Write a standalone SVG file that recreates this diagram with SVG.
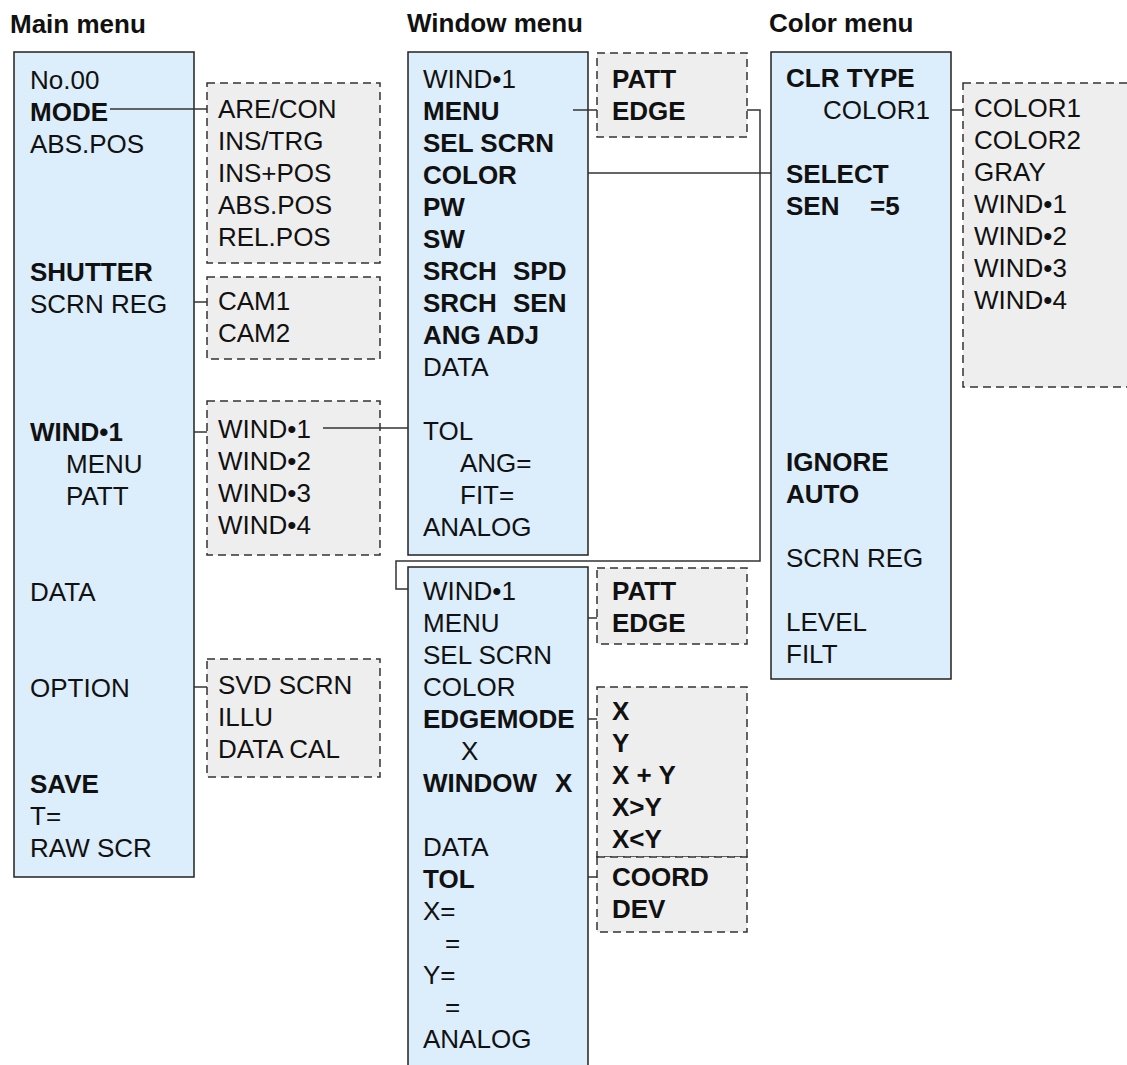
<svg xmlns="http://www.w3.org/2000/svg" width="1127" height="1065" viewBox="0 0 1127 1065">
<style>
.menu{fill:#DCEDFB;stroke:#222;stroke-width:1.5}
.sub{fill:#EEEEEE;stroke:#333;stroke-width:1.5;stroke-dasharray:8 5}
text{font-family:"Liberation Sans",Arial,sans-serif;font-size:26px;fill:#111}
.b{font-weight:bold}
.conn{fill:none;stroke:#333;stroke-width:1.5}
</style>
<rect width="1127" height="1065" fill="#fff"/>
<g id="titles">
<text class="b" x="10" y="33">Main menu</text>
<text class="b" x="407" y="32">Window menu</text>
<text class="b" x="769" y="32">Color menu</text>
</g>
<g id="main-menu">
<rect class="menu" x="14" y="52" width="180" height="825"/>
<text x="30" y="89">No.00</text>
<text class="b" x="30" y="121">MODE</text>
<text x="30" y="153">ABS.POS</text>
<text class="b" x="30" y="281">SHUTTER</text>
<text x="30" y="313">SCRN REG</text>
<text class="b" x="30" y="441">WIND•1</text>
<text x="66" y="473">MENU</text>
<text x="66" y="505">PATT</text>
<text x="30" y="601">DATA</text>
<text x="30" y="697">OPTION</text>
<text class="b" x="30" y="793">SAVE</text>
<text x="30" y="825">T=</text>
<text x="30" y="857">RAW SCR</text>
</g>
<g id="mode-sub">
<rect class="sub" x="207" y="83" width="173" height="180"/>
<text x="218" y="118">ARE/CON</text>
<text x="218" y="150">INS/TRG</text>
<text x="218" y="182">INS+POS</text>
<text x="218" y="214">ABS.POS</text>
<text x="218" y="246">REL.POS</text>
</g>
<g id="cam-sub">
<rect class="sub" x="207" y="277" width="173" height="82"/>
<text x="218" y="310">CAM1</text>
<text x="218" y="342">CAM2</text>
</g>
<g id="wind-sub">
<rect class="sub" x="207" y="401" width="173" height="154"/>
<text x="218" y="438">WIND•1</text>
<text x="218" y="470">WIND•2</text>
<text x="218" y="502">WIND•3</text>
<text x="218" y="534">WIND•4</text>
</g>
<g id="option-sub">
<rect class="sub" x="207" y="659" width="173" height="118"/>
<text x="218" y="694">SVD SCRN</text>
<text x="218" y="726">ILLU</text>
<text x="218" y="758">DATA CAL</text>
</g>
<g id="window-menu-patt">
<rect class="menu" x="408" y="52" width="180" height="503"/>
<text x="423" y="88">WIND•1</text>
<text class="b" x="423" y="120">MENU</text>
<text class="b" x="423" y="152">SEL SCRN</text>
<text class="b" x="423" y="184">COLOR</text>
<text class="b" x="423" y="216">PW</text>
<text class="b" x="423" y="248">SW</text>
<text class="b" x="423" y="280">SRCH<tspan x="513">SPD</tspan></text>
<text class="b" x="423" y="312">SRCH<tspan x="513">SEN</tspan></text>
<text class="b" x="423" y="344">ANG ADJ</text>
<text x="423" y="376">DATA</text>
<text x="423" y="440">TOL</text>
<text x="460" y="472">ANG=</text>
<text x="460" y="504">FIT=</text>
<text x="423" y="536">ANALOG</text>
</g>
<g id="menu-sub-top">
<rect class="sub" x="597" y="53" width="150" height="84"/>
<text class="b" x="612" y="88">PATT</text>
<text class="b" x="612" y="120">EDGE</text>
</g>
<g id="color-menu">
<rect class="menu" x="771" y="52" width="180" height="627"/>
<text class="b" x="786" y="87">CLR TYPE</text>
<text x="823" y="119">COLOR1</text>
<text class="b" x="786" y="183">SELECT</text>
<text class="b" x="786" y="215">SEN<tspan x="870">=5</tspan></text>
<text class="b" x="786" y="471">IGNORE</text>
<text class="b" x="786" y="503">AUTO</text>
<text x="786" y="567">SCRN REG</text>
<text x="786" y="631">LEVEL</text>
<text x="786" y="663">FILT</text>
</g>
<g id="color-sub">
<rect class="sub" x="963" y="83" width="200" height="304"/>
<text x="974" y="117">COLOR1</text>
<text x="974" y="149">COLOR2</text>
<text x="974" y="181">GRAY</text>
<text x="974" y="213">WIND•1</text>
<text x="974" y="245">WIND•2</text>
<text x="974" y="277">WIND•3</text>
<text x="974" y="309">WIND•4</text>
</g>
<g id="window-menu-edge">
<rect class="menu" x="408" y="567" width="180" height="520"/>
<text x="423" y="600">WIND•1</text>
<text x="423" y="632">MENU</text>
<text x="423" y="664">SEL SCRN</text>
<text x="423" y="696">COLOR</text>
<text class="b" x="423" y="728">EDGEMODE</text>
<text x="461" y="760">X</text>
<text class="b" x="423" y="792">WINDOW<tspan x="555">X</tspan></text>
<text x="423" y="856">DATA</text>
<text class="b" x="423" y="888">TOL</text>
<text x="423" y="920">X=</text>
<text x="445" y="952">=</text>
<text x="423" y="984">Y=</text>
<text x="445" y="1016">=</text>
<text x="423" y="1048">ANALOG</text>
</g>
<g id="menu-sub-bottom">
<rect class="sub" x="597" y="568" width="150" height="76"/>
<text class="b" x="612" y="600">PATT</text>
<text class="b" x="612" y="632">EDGE</text>
</g>
<g id="edgemode-sub">
<rect class="sub" x="597" y="687" width="150" height="170"/>
<text class="b" x="612" y="720">X</text>
<text class="b" x="612" y="752">Y</text>
<text class="b" x="612" y="784">X + Y</text>
<text class="b" x="612" y="816">X&gt;Y</text>
<text class="b" x="612" y="848">X&lt;Y</text>
</g>
<g id="tol-sub">
<rect class="sub" x="597" y="857" width="150" height="75"/>
<text class="b" x="612" y="886">COORD</text>
<text class="b" x="612" y="918">DEV</text>
</g>
<g id="connectors">
<path class="conn" d="M110,109 H207"/>
<path class="conn" d="M194,302 H207"/>
<path class="conn" d="M194,432 H207"/>
<path class="conn" d="M323,428 H408"/>
<path class="conn" d="M194,687 H207"/>
<path class="conn" d="M573,110 H597"/>
<path class="conn" d="M747,110 H760 V561 H396 V589 H408"/>
<path class="conn" d="M588,173 H771"/>
<path class="conn" d="M951,110 H963"/>
<path class="conn" d="M588,618 H597"/>
<path class="conn" d="M588,719 H597"/>
<path class="conn" d="M588,877 H597"/>
</g>
</svg>
